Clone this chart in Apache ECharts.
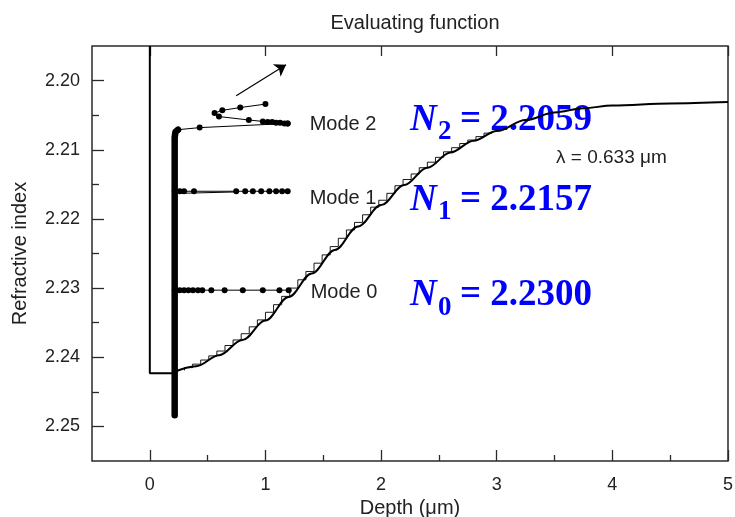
<!DOCTYPE html>
<html><head><meta charset="utf-8">
<script src="https://cdn.jsdelivr.net/npm/echarts@6/dist/echarts.min.js"></script>
<style>html,body{margin:0;padding:0;background:#fff}#c{width:735px;height:517px}</style>
</head><body><div id="c"></div>
<script>
// ---- data ----
const xMajorTicks = [0, 1, 2, 3, 4, 5];
const xMinorTicks = [0.5, 1.5, 2.5, 3.5, 4.5];
const yMajorTicks = [2.20, 2.21, 2.22, 2.23, 2.24, 2.25];
const yMinorTicks = [2.205, 2.215, 2.225, 2.235, 2.245];

const wallDepth = [0, 0, 0.2];
const wallIndex = [2.195, 2.2423, 2.2423];

const profileDepth = [0.2, 0.4, 0.6, 0.8, 1.0, 1.2, 1.4, 1.6, 1.8, 2.0, 2.2, 2.4, 2.6, 2.8, 3.0, 3.25, 3.5, 3.75, 4.0, 4.5, 5.0];
const profileIndex = [2.2422, 2.2413, 2.2397, 2.2375, 2.2347, 2.2313, 2.2279, 2.2245, 2.2211, 2.2180, 2.2151, 2.2126, 2.2104, 2.2087, 2.2073, 2.2057, 2.2046, 2.2040, 2.2036, 2.2033, 2.2031];

const stairDepth = [0.30, 0.37, 0.44, 0.51, 0.58, 0.65, 0.72, 0.79, 0.86, 0.93, 1.00, 1.07, 1.14, 1.21, 1.28, 1.35, 1.42, 1.49, 1.56, 1.63, 1.70, 1.77, 1.84, 1.91, 1.98, 2.05, 2.12, 2.19, 2.26, 2.33, 2.40, 2.47, 2.54, 2.61, 2.68, 2.75, 2.82, 2.89, 2.96];
const stairIndex = [2.2419, 2.2415, 2.2410, 2.2404, 2.2398, 2.2391, 2.2383, 2.2375, 2.2366, 2.2356, 2.2346, 2.2335, 2.2324, 2.2312, 2.2300, 2.2288, 2.2276, 2.2264, 2.2252, 2.2240, 2.2228, 2.2216, 2.2205, 2.2194, 2.2183, 2.2173, 2.2163, 2.2152, 2.2143, 2.2135, 2.2126, 2.2118, 2.2111, 2.2103, 2.2097, 2.2091, 2.2086, 2.2081, 2.2076];

const traceDepth = [0.215, 0.215, 0.222, 0.244];
const traceIndex = [2.2484, 2.2082, 2.2074, 2.2071];

const modeTwoDepth = [0.244, 0.431, 1.192];
const modeTwoIndex = [2.2071, 2.2068, 2.2062];
const modeTwoScanDepth = [1.000, 0.782, 0.627, 0.560, 0.598, 0.856, 0.977, 1.020, 1.058, 1.092, 1.127, 1.164, 1.192];
const modeTwoScanIndex = [2.2034, 2.2039, 2.2043, 2.2047, 2.2052, 2.2057, 2.2059, 2.2060, 2.2060, 2.2061, 2.2061, 2.2062, 2.2062];

const modeOneDepth = [0.216, 0.259, 0.296, 0.382, 0.747, 0.825, 0.891, 0.963, 1.034, 1.092, 1.144, 1.192];
const modeOneIndex = [2.2160, 2.2160, 2.2160, 2.2160, 2.2160, 2.2160, 2.2160, 2.2160, 2.2160, 2.2160, 2.2160, 2.2160];
const modeOneBranchDepth = [0.259, 0.747];
const modeOneBranchIndex = [2.2163, 2.2161];

const modeZeroDepth = [0.216, 0.259, 0.296, 0.334, 0.373, 0.416, 0.454, 0.532, 0.647, 0.804, 0.977, 1.121, 1.201];
const modeZeroIndex = [2.2303, 2.2303, 2.2303, 2.2303, 2.2303, 2.2303, 2.2303, 2.2303, 2.2303, 2.2303, 2.2303, 2.2303, 2.2303];

const arrowDepth = [0.747, 1.178];
const arrowIndex = [2.2022, 2.1977];

const modeNames = ['Mode 2', 'Mode 1', 'Mode 0'];
const effIndexText = [['2', '= 2.2059'], ['1', '= 2.2157'], ['0', '= 2.2300']];

// ---- helpers ----
const zip = (a, b) => a.map((v, i) => [v, b[i]]);
const INK = '#000';
const FRAME = '#2a2a2a';
const TXT = '#222';
const SANS = '"Liberation Sans", Arial, sans-serif';

function withEndLabel(pairs, text, dy) {
  return pairs.map((p, i) => i === pairs.length - 1
    ? { value: p, label: { show: true, formatter: text, position: 'right', distance: 19, offset: [0, dy],
        color: TXT, fontSize: 20, fontFamily: SANS } }
    : p);
}

const dotSeries = (data, extra) => Object.assign({
  type: 'line', data, symbol: 'circle', symbolSize: 6, showSymbol: true,
  itemStyle: { color: INK }, lineStyle: { color: INK, width: 1 }, z: 5, animation: false
}, extra || {});

const chart = echarts.init(document.getElementById('c'), null, { renderer: 'canvas' });

const axisCommon = { type: 'value', splitLine: { show: false } };
const noLine = { show: false, onZero: false };

const graphics = [];
const nMiddles = [[123, 134], [202.5, 213.5], [297.5, 310]];
effIndexText.forEach((t, i) => {
  const font = (style, size) => style + ' bold ' + size + 'px "Liberation Serif", "Times New Roman", serif';
  graphics.push({ type: 'text', left: 410, top: nMiddles[i][0] - 21, style: { text: 'N', font: font('italic', 37), fill: '#0000ff' } });
  graphics.push({ type: 'text', left: 438, top: nMiddles[i][1] - 15, style: { text: t[0], font: font('normal', 27), fill: '#0000ff' } });
  graphics.push({ type: 'text', left: 460, top: nMiddles[i][0] - 21, style: { text: t[1], font: font('normal', 37), fill: '#0000ff' } });
});
graphics.push({ type: 'text', left: 556, top: 148, style: { text: 'λ = 0.633 μm', font: '19px ' + SANS, fill: TXT } });

chart.setOption({
  animation: false,
  backgroundColor: '#fff',
  title: { text: 'Evaluating function', left: 410, top: 8, textAlign: 'center',
    textStyle: { fontSize: 20, fontWeight: 'normal', color: TXT, fontFamily: SANS } },
  grid: { left: 92, right: 7, top: 46, bottom: 56, show: true, borderColor: FRAME, borderWidth: 1.5,
    containLabel: false, outerBoundsMode: 'none' },
  xAxis: [
    Object.assign({}, axisCommon, { min: -0.5, max: 5, position: 'bottom',
      axisLine: noLine,
      axisTick: { inside: true, length: 11, customValues: xMajorTicks, lineStyle: { color: FRAME, width: 1.3 } },
      axisLabel: { customValues: xMajorTicks, margin: 15, fontSize: 18, color: TXT, fontFamily: SANS },
      name: 'Depth (μm)', nameLocation: 'middle', nameGap: 32,
      nameTextStyle: { fontSize: 20, color: TXT, fontFamily: SANS } }),
    Object.assign({}, axisCommon, { min: -0.5, max: 5, position: 'bottom',
      axisLine: noLine,
      axisTick: { inside: true, length: 6, customValues: xMinorTicks, lineStyle: { color: FRAME, width: 1.3 } },
      axisLabel: { show: false } }),
    Object.assign({}, axisCommon, { min: -0.5, max: 5, position: 'top',
      axisLine: noLine,
      axisTick: { inside: true, length: 10, customValues: xMajorTicks, lineStyle: { color: FRAME, width: 1.3 } },
      axisLabel: { show: false } })
  ],
  yAxis: [
    Object.assign({}, axisCommon, { min: 2.195, max: 2.255, inverse: true, position: 'left',
      axisLine: noLine,
      axisTick: { inside: true, length: 12, customValues: yMajorTicks, lineStyle: { color: FRAME, width: 1.3 } },
      axisLabel: { customValues: yMajorTicks, margin: 12, fontSize: 18, color: TXT, fontFamily: SANS,
        formatter: v => v.toFixed(2) },
      name: 'Refractive index', nameLocation: 'middle', nameGap: 62,
      nameTextStyle: { fontSize: 20, color: TXT, fontFamily: SANS } }),
    Object.assign({}, axisCommon, { min: 2.195, max: 2.255, inverse: true, position: 'left',
      axisLine: noLine,
      axisTick: { inside: true, length: 7, customValues: yMinorTicks, lineStyle: { color: FRAME, width: 1.3 } },
      axisLabel: { show: false } })
  ],
  graphic: graphics,
  series: [
    { type: 'line', data: zip(wallDepth, wallIndex), symbol: 'none', lineStyle: { color: INK, width: 2 }, z: 3 },
    { type: 'line', data: zip(profileDepth, profileIndex), symbol: 'none', smooth: 0.35, smoothMonotone: 'x',
      lineStyle: { color: INK, width: 2 }, z: 3 },
    { type: 'line', data: zip(stairDepth, stairIndex), step: 'start', symbol: 'none',
      lineStyle: { color: INK, width: 0.9 }, z: 2 },
    { type: 'line', data: zip(traceDepth, traceIndex), symbol: 'none',
      lineStyle: { color: INK, width: 6.5, cap: 'round', join: 'round' }, z: 6 },
    dotSeries(withEndLabel(zip(modeTwoDepth, modeTwoIndex), modeNames[0], 1)),
    dotSeries(zip(modeTwoScanDepth, modeTwoScanIndex)),
    dotSeries(withEndLabel(zip(modeOneDepth, modeOneIndex), modeNames[1], 7)),
    dotSeries(zip(modeOneBranchDepth, modeOneBranchIndex), { symbol: 'none' }),
    dotSeries(withEndLabel(zip(modeZeroDepth, modeZeroIndex), modeNames[2], 2)),
    { type: 'lines', coordinateSystem: 'cartesian2d', xAxisIndex: 0, yAxisIndex: 0,
      symbol: ['none', 'arrow'], symbolSize: 11,
      lineStyle: { color: INK, width: 1.2, opacity: 1 },
      data: [{ coords: zip(arrowDepth, arrowIndex) }], z: 5 }
  ]
});
</script>
</body></html>
